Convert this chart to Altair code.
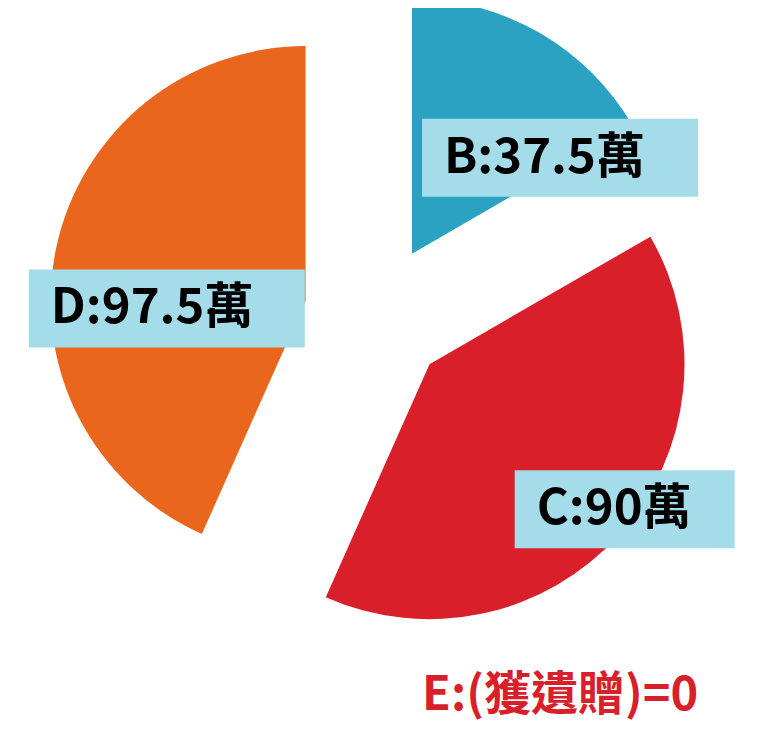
import altair as alt
import pandas as pd

# ---- data ----
categories = ["B", "C", "D"]
values = [37.5, 90, 97.5]
labels = ["B:37.5萬", "C:90萬", "D:97.5萬"]
colors = ["#2ba2c1", "#d91f2a", "#ea661c"]
note_text = ["E:(獲遺贈)=0"]

df = pd.DataFrame({"cat": categories, "value": values, "label": labels})

# layout constants (pixels inside the plot area)
CX, CY = 368, 308      # pie centre
EXPLODE = 72           # slice offset from the centre
R = 255                # slice radius
LRX, LRY = 194, 157    # label distance from slice apex (horizontal / vertical)
SX, SY = 51, 40        # common label shift
FONT = "Noto Sans CJK TC"

base = (
    alt.Chart(df)
    .transform_joinaggregate(total="sum(value)")
    .transform_window(cum="sum(value)", frame=[None, 0], sort=[alt.SortField("cat")])
    .transform_calculate(t1="2*PI*datum.cum/datum.total")
    .transform_calculate(t0="2*PI*(datum.cum-datum.value)/datum.total")
    .transform_calculate(mid="(datum.t0+datum.t1)/2")
    .transform_calculate(ax=f"{CX}+{EXPLODE}*sin(datum.mid)")
    .transform_calculate(ay=f"{CY}-{EXPLODE}*cos(datum.mid)")
    .transform_calculate(lx=f"datum.ax+{LRX}*sin(datum.mid)+{SX}")
    .transform_calculate(ly=f"datum.ay-{LRY}*cos(datum.mid)+{SY}")
    .transform_calculate(bw="28*length(datum.label)+80")
    .transform_calculate(bx="datum.lx-datum.bw/2")
    .transform_calculate(bx2="datum.lx+datum.bw/2")
    .transform_calculate(by="datum.ly-39")
    .transform_calculate(by2="datum.ly+39")
    .transform_calculate(tx="datum.bx+22")
)

arcs = base.mark_arc(radius=R).encode(
    x=alt.X("ax:Q", scale=None, axis=None),
    y=alt.Y("ay:Q", scale=None, axis=None),
    theta=alt.Theta("t0:Q", scale=None, stack=None),
    theta2=alt.Theta2("t1:Q"),
    color=alt.Color("cat:N", scale=alt.Scale(domain=categories, range=colors), legend=None),
)

boxes = base.mark_rect(color="#a5dcea").encode(
    x=alt.X("bx:Q", scale=None, axis=None),
    x2="bx2:Q",
    y=alt.Y("by:Q", scale=None, axis=None),
    y2="by2:Q",
)

texts = base.mark_text(
    align="left", baseline="middle", font=FONT, fontSize=49, fontWeight="bold", color="#000000"
).encode(
    x=alt.X("tx:Q", scale=None, axis=None),
    y=alt.Y("ly:Q", scale=None, axis=None),
    text="label:N",
)

note = alt.Chart(pd.DataFrame({"label": note_text})).mark_text(
    align="left", baseline="alphabetic", font=FONT, fontSize=47, fontWeight="bold", color="#d91f2a"
).encode(
    x=alt.value(414),
    y=alt.value(702),
    text="label:N",
)

chart = (
    alt.layer(arcs, boxes, texts, note)
    .properties(width=759, height=719, padding=0, autosize="none")
    .configure_view(strokeWidth=0)
)

chart.save("out.html", embed_options={"renderer": "svg", "actions": False})
